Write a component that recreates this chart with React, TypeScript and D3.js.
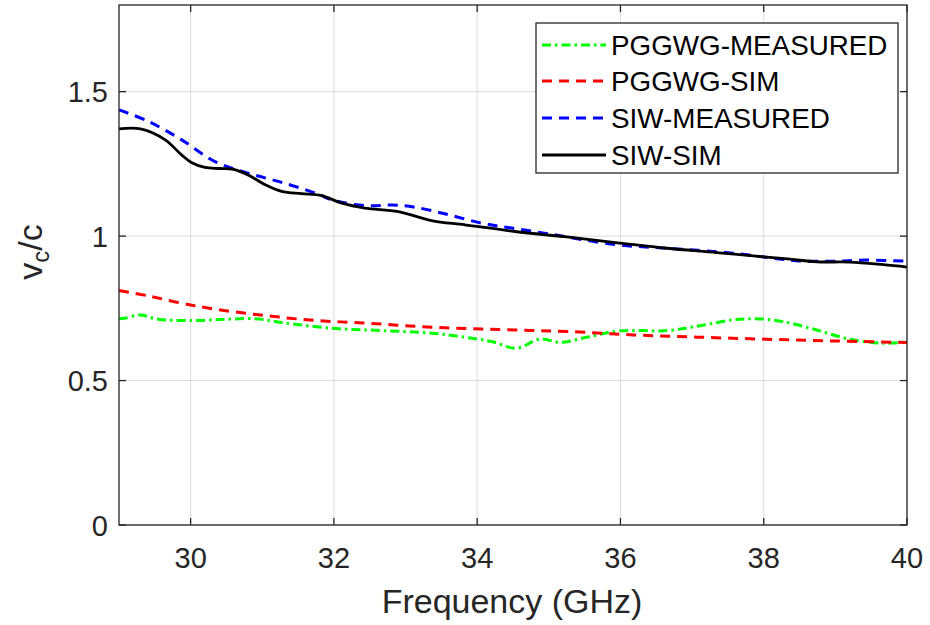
import React from "react";
import * as d3 from "d3";

const xTicks = [30, 32, 34, 36, 38, 40];
const yTicks = [0, 0.5, 1, 1.5];
const yTickLabels = ["0", "0.5", "1", "1.5"];

const seriesNames = ["PGGWG-MEASURED", "PGGWG-SIM", "SIW-MEASURED", "SIW-SIM"];

const pggwgMeasFreq = [29.0, 29.08, 29.29, 29.55, 30.01, 30.48, 30.9, 31.27, 31.97, 32.67, 33.36, 33.83, 34.2, 34.55, 34.88, 35.16, 35.53, 35.99, 36.65, 37.11, 37.57, 37.9, 38.27, 38.74, 39.2, 39.67, 40.0];
const pggwgMeasVal = [0.714, 0.716, 0.727, 0.712, 0.708, 0.712, 0.714, 0.701, 0.681, 0.673, 0.664, 0.65, 0.635, 0.612, 0.644, 0.632, 0.65, 0.672, 0.673, 0.69, 0.71, 0.714, 0.704, 0.675, 0.643, 0.629, 0.634];

const pggwgSimFreq = [29.0, 29.41, 29.87, 30.34, 31.04, 31.74, 32.43, 33.13, 33.83, 34.53, 35.25, 36.18, 37.11, 38.04, 38.97, 40.0];
const pggwgSimVal = [0.812, 0.793, 0.768, 0.747, 0.725, 0.708, 0.699, 0.688, 0.68, 0.675, 0.67, 0.658, 0.65, 0.643, 0.637, 0.632];

const siwMeasFreq = [29.0, 29.41, 29.87, 30.34, 30.8, 31.27, 31.74, 32.02, 32.48, 32.81, 33.13, 33.6, 34.06, 34.48, 35.02, 35.95, 36.65, 37.57, 38.18, 38.5, 38.97, 39.44, 40.0];
const siwMeasVal = [1.437, 1.397, 1.334, 1.258, 1.218, 1.186, 1.149, 1.122, 1.105, 1.108, 1.1, 1.074, 1.045, 1.028, 1.007, 0.97, 0.958, 0.941, 0.922, 0.914, 0.913, 0.917, 0.913];

const siwSimFreq = [29.0, 29.3, 29.64, 29.87, 30.01, 30.2, 30.4, 30.6, 30.8, 31.04, 31.27, 31.55, 31.83, 32.11, 32.43, 32.9, 33.36, 33.83, 34.53, 35.25, 35.99, 36.65, 37.34, 38.04, 38.37, 38.74, 39.2, 39.67, 40.0];
const siwSimVal = [1.371, 1.371, 1.334, 1.282, 1.255, 1.238, 1.234, 1.231, 1.212, 1.178, 1.155, 1.147, 1.14, 1.114, 1.097, 1.085, 1.054, 1.039, 1.016, 0.997, 0.976, 0.958, 0.943, 0.927, 0.92, 0.911, 0.91, 0.901, 0.893];

const W = 930;
const H = 625;
const left = 119;
const right = 907;
const top = 5;
const bottom = 525;

const FONT = "'Liberation Sans', Arial, Helvetica, sans-serif";
const AX = "#262626";

export default function App() {
  const x = d3.scaleLinear().domain([29, 40]).range([left, right]);
  const y = d3.scaleLinear().domain([0, 1.8]).range([bottom, top]);

  const line = d3
    .line<[number, number]>()
    .x((d) => x(d[0]))
    .y((d) => y(d[1]))
    .curve(d3.curveCatmullRom.alpha(0.5));

  const zip = (f: number[], v: number[]) => f.map((fv, i) => [fv, v[i]] as [number, number]);

  const series = [
    { name: seriesNames[0], d: zip(pggwgMeasFreq, pggwgMeasVal), color: "#00ff00", dash: "9,4,2.5,4", w: 3 },
    { name: seriesNames[1], d: zip(pggwgSimFreq, pggwgSimVal), color: "#ff0000", dash: "10,7", w: 3 },
    { name: seriesNames[2], d: zip(siwMeasFreq, siwMeasVal), color: "#0000ff", dash: "10,7", w: 3 },
    { name: seriesNames[3], d: zip(siwSimFreq, siwSimVal), color: "#000000", dash: "none", w: 2.8 },
  ];

  const legX = 536;
  const legY = 23;
  const legW = 362;
  const legH = 150;
  const rowYs = [45, 81, 118, 155];

  return (
    <svg width={W} height={H} style={{ position: "absolute", left: 0, top: 0, background: "#fff" }}>
      <rect x={0} y={0} width={W} height={H} fill="#fff" />
      {xTicks.map((t) => (
        <line key={"gx" + t} x1={x(t)} x2={x(t)} y1={top} y2={bottom} stroke="#dcdcdc" strokeWidth={1} />
      ))}
      {yTicks.map((t) => (
        <line key={"gy" + t} x1={left} x2={right} y1={y(t)} y2={y(t)} stroke="#dcdcdc" strokeWidth={1} />
      ))}
      <g>
        {series.map((s) => (
          <path
            key={s.name}
            d={line(s.d) || ""}
            fill="none"
            stroke={s.color}
            strokeWidth={s.w}
            strokeDasharray={s.dash}
          />
        ))}
      </g>
      <rect x={left} y={top} width={right - left} height={bottom - top} fill="none" stroke={AX} strokeWidth={1.3} />
      {xTicks.map((t) => (
        <g key={"tx" + t}>
          <line x1={x(t)} x2={x(t)} y1={bottom} y2={bottom - 7} stroke={AX} strokeWidth={1.3} />
          <line x1={x(t)} x2={x(t)} y1={top} y2={top + 7} stroke={AX} strokeWidth={1.3} />
          <text x={x(t)} y={568} textAnchor="middle" fontFamily={FONT} fontSize={29} fill={AX}>
            {t}
          </text>
        </g>
      ))}
      {yTicks.map((t, i) => (
        <g key={"ty" + t}>
          <line x1={left} x2={left + 7} y1={y(t)} y2={y(t)} stroke={AX} strokeWidth={1.3} />
          <line x1={right} x2={right - 7} y1={y(t)} y2={y(t)} stroke={AX} strokeWidth={1.3} />
          <text x={108} y={y(t) + 10.5} textAnchor="end" fontFamily={FONT} fontSize={29} fill={AX}>
            {yTickLabels[i]}
          </text>
        </g>
      ))}
      <text x={(left + right) / 2 - 1} y={613} textAnchor="middle" fontFamily={FONT} fontSize={34} fill={AX}>
        Frequency (GHz)
      </text>
      <text
        transform={`translate(42, ${252}) rotate(-90)`}
        textAnchor="middle"
        fontFamily={FONT}
        fontSize={34}
        fill={AX}
      >
        v
        <tspan baselineShift="-30%" fontSize={24}>c</tspan>
        <tspan>/c</tspan>
      </text>
      <rect x={legX} y={legY} width={legW} height={legH} fill="#fff" stroke={AX} strokeWidth={1.3} />
      {series.map((s, i) => (
        <g key={"leg" + s.name}>
          <line
            x1={542}
            x2={606}
            y1={rowYs[i]}
            y2={rowYs[i]}
            stroke={s.color}
            strokeWidth={s.w}
            strokeDasharray={s.dash}
          />
          <text x={611} y={rowYs[i] + 10} fontFamily={FONT} fontSize={27.8} fill="#000">
            {s.name}
          </text>
        </g>
      ))}
    </svg>
  );
}
